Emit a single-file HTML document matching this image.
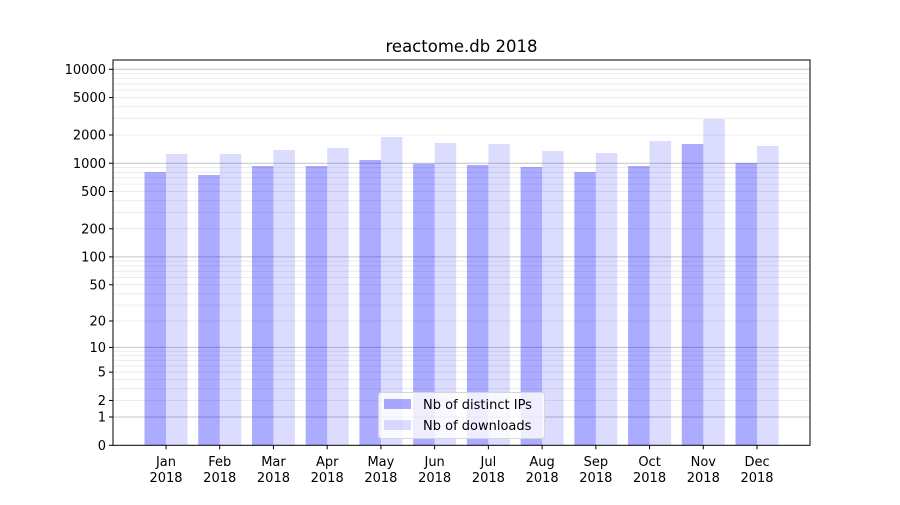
<!DOCTYPE html>
<html><head><meta charset="utf-8"><style>
body{margin:0;background:#fff;}
svg text{font-family:"DejaVu Sans","Liberation Sans",sans-serif;}
</style></head><body>
<svg id="s" width="900" height="500" xmlns="http://www.w3.org/2000/svg">
<rect width="900" height="500" fill="#fff"/>
<g id="grid"></g>
<g id="bars"></g>
<g id="axes"></g>
<text x="461.5" y="52" font-size="16.5" text-anchor="middle" fill="#000">reactome.db 2018</text>
<g>
<rect x="378.5" y="392.5" width="166" height="46" rx="3" fill="#fff" fill-opacity="0.8" stroke="#d6d6d6"/>
<rect x="384" y="399" width="27" height="10" fill="#0000ff" fill-opacity="0.33"/>
<rect x="384" y="420" width="27" height="10" fill="#0000ff" fill-opacity="0.137"/>
<text x="423" y="409" font-size="13" fill="#000">Nb of distinct IPs</text>
<text x="423" y="430" font-size="13" fill="#000">Nb of downloads</text>
</g>
</svg>
<script>
const L=113,R=810,T=60,B=445.3,K=94;
const Y=v=>B-K*Math.log10(1+v);
let g='';
for(let d=1;d<=10000;d*=10){for(let m=1;m<=9;m++){const v=d*m;if(v>12000)break;const y=Y(v);
 g+=`<line x1="${L}" x2="${R}" y1="${y}" y2="${y}" stroke="${m==1?'#c4c4c4':'#ececec'}" stroke-width="1"/>`;}}
document.getElementById('grid').innerHTML=g;
const blue=[172,175,166,166,160,163.7,165,167,172,166,144,163];
const light=[154,154,150,148,137,143,144,151,153,141,119,146];
const mon=['Jan','Feb','Mar','Apr','May','Jun','Jul','Aug','Sep','Oct','Nov','Dec'];
let b='',a='';
for(let i=0;i<12;i++){const c=166+i*53.73;
 b+=`<rect x="${c-21.5}" y="${blue[i]}" width="21.5" height="${B-blue[i]}" fill="#0000ff" fill-opacity="0.33"/>`;
 b+=`<rect x="${c}" y="${light[i]}" width="21.5" height="${B-light[i]}" fill="#0000ff" fill-opacity="0.137"/>`;
 a+=`<line x1="${c}" x2="${c}" y1="${B}" y2="${B+4}" stroke="#000"/>`;
 a+=`<text x="${c}" y="${466}" font-size="13" text-anchor="middle">${mon[i]}</text><text x="${c}" y="${482}" font-size="13" text-anchor="middle">2018</text>`;}
document.getElementById('bars').innerHTML=b;
[0,1,2,5,10,20,50,100,200,500,1000,2000,5000,10000].forEach(v=>{const y=Y(v);
 a+=`<line x1="${L-4}" x2="${L}" y1="${y}" y2="${y}" stroke="#000"/><text x="${L-7}" y="${y+4.5}" font-size="13" text-anchor="end">${v}</text>`;});
a+=`<rect x="${L}" y="${T}" width="${R-L}" height="${B-T}" fill="none" stroke="#000" stroke-width="1"/>`;
document.getElementById('axes').innerHTML=a;
</script>
</body></html>
